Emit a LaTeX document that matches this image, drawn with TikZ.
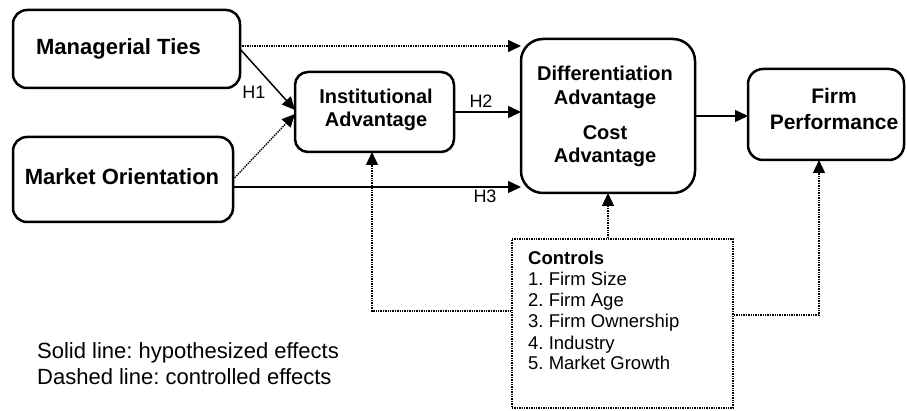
\documentclass[tikz,border=0pt]{standalone}
\usepackage{fontspec}
\setmainfont{Liberation Sans}
\usetikzlibrary{arrows.meta}
\frenchspacing
\begin{document}
\begin{tikzpicture}[x=1pt,y=-1pt,
  box/.style={draw, line width=2.5pt, inner sep=0pt, outer sep=0pt},
  bigtitle/.style={font=\bfseries\fontsize{22}{26}\selectfont, anchor=base, inner sep=0pt},
  title/.style={font=\bfseries\fontsize{20}{23}\selectfont, anchor=base, inner sep=0pt},
  hlabel/.style={font=\fontsize{18}{21}\selectfont, anchor=base, inner sep=0pt},
  listline/.style={font=\fontsize{18.5}{21}\selectfont, anchor=base west, inner sep=0pt},
  legend/.style={font=\fontsize{22}{26}\selectfont, anchor=base west, inner sep=0pt},
  tip/.tip={Triangle[length=13pt,width=12pt]},
  hyp/.style={line width=1.5pt, -tip},
  ctrl/.style={line width=1.4pt, densely dotted, -tip}]

  \useasboundingbox (0,0) rectangle (907,411);

  % construct boxes
  \node[box, rounded corners=14pt, minimum width=227pt, minimum height=78pt] (mt)   at (126.5,49) {};
  \node[box, rounded corners=14pt, minimum width=220pt, minimum height=85pt] (mo)   at (123,179.5) {};
  \node[box, rounded corners=13pt, minimum width=159pt, minimum height=80pt] (inst) at (374.5,112) {};
  \node[box, rounded corners=22pt, minimum width=174pt, minimum height=154pt] (diff) at (608,116) {};
  \node[box, rounded corners=15pt, minimum width=156pt, minimum height=91pt] (fp)   at (826,114.5) {};
  \node[draw, line width=1.4pt, densely dotted, inner sep=0pt,
        minimum width=221pt, minimum height=169pt] (ctl) at (622.5,323.5) {};

  % box titles
  \node[bigtitle] (mtt) at (118.5,55) {Managerial Ties};
  \node[bigtitle] (mot) at (122,185) {Market Orientation};
  \node[title] (it1) at (376,104) {Institutional};
  \node[title] (it2) at (376,127) {Advantage};
  \node[title] (dt1) at (605,81) {Differentiation};
  \node[title] (dt2) at (605,105) {Advantage};
  \node[title] (dt3) at (605,140) {Cost};
  \node[title] (dt4) at (605,163) {Advantage};
  \node[title, font=\bfseries\fontsize{21}{24}\selectfont] (ft1) at (834,104) {Firm};
  \node[title, font=\bfseries\fontsize{21}{24}\selectfont] (ft2) at (834,130) {Performance};

  % control variables
  \node[listline, font=\bfseries\fontsize{18.5}{21}\selectfont] (c0) at (528,265) {Controls};
  \node[listline] (c1) at (528,286) {1. Firm Size};
  \node[listline] (c2) at (528,307) {2. Firm Age};
  \node[listline] (c3) at (528,328) {3. Firm Ownership};
  \node[listline] (c4) at (528,349) {4. Industry};
  \node[listline] (c5) at (528,370) {5. Market Growth};

  % hypothesized paths
  \draw[hyp] (mt.east) -- ([yshift=2pt]inst.west);
  \draw[hyp] (inst.east) -- (inst.east -| diff.west);
  \draw[hyp] ([yshift=-7.5pt]mo.east) -- ([yshift=-7.5pt]mo.east -| diff.west);
  \draw[hyp] (diff.east) -- (diff.east -| fp.west);

  % controlled paths
  \draw[ctrl] ([yshift=3pt]mt.east) -- ([yshift=3pt]mt.east -| diff.west);
  \draw[ctrl] (mo.east) -- ([yshift=-2pt]inst.west);
  \draw[ctrl] (diff.south |- ctl.north) -- (diff.south);
  \draw[ctrl] ([yshift=12.5pt]ctl.west) -| ([xshift=-2.5pt]inst.south);
  \draw[ctrl] ([yshift=8.5pt]ctl.east) -| ([xshift=-7pt]fp.south);

  % hypothesis labels
  \node[hlabel] (h1) at (254,99) {H1};
  \node[hlabel] (h2) at (481,108) {H2};
  \node[hlabel] (h3) at (485,203) {H3};

  % legend
  \node[legend] (l1) at (37,358) {Solid line: hypothesized effects};
  \node[legend] (l2) at (37,384) {Dashed line: controlled effects};
\end{tikzpicture}
\end{document}
